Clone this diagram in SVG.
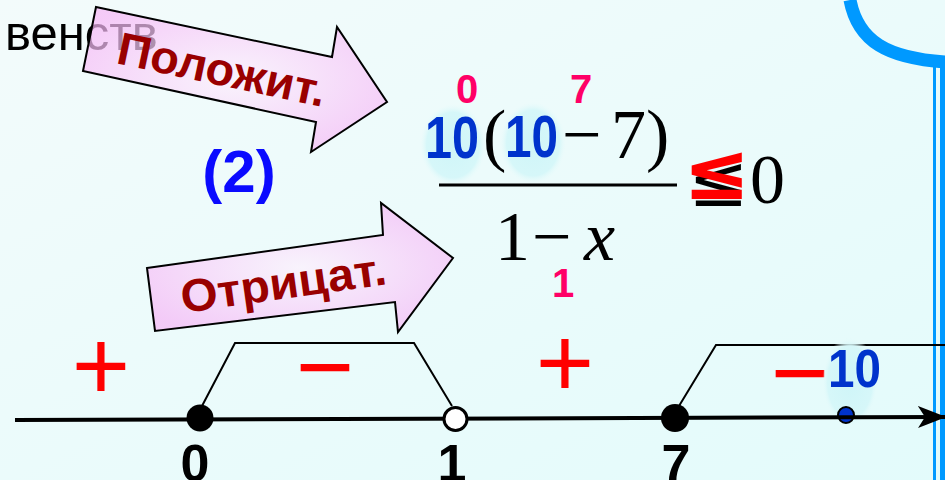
<svg xmlns="http://www.w3.org/2000/svg" width="945" height="480" viewBox="0 0 945 480">
<defs>
<linearGradient id="bg" x1="0" y1="0" x2="1" y2="1">
<stop offset="0" stop-color="#f3fbfb"/>
<stop offset="1" stop-color="#e3fbfb"/>
</linearGradient>
<radialGradient id="pink" cx="0.5" cy="0.5" r="0.6">
<stop offset="0" stop-color="#fdf0fd"/>
<stop offset="1" stop-color="#f6b6f6"/>
</radialGradient>
<radialGradient id="glow" cx="0.5" cy="0.5" r="0.5">
<stop offset="0" stop-color="#cff5f8"/>
<stop offset="0.8" stop-color="#d6f7f9"/>
<stop offset="1" stop-color="#e8fbfb" stop-opacity="0"/>
</radialGradient>
<marker id="ah" viewBox="0 0 28 24" refX="27" refY="12" markerWidth="28" markerHeight="24" markerUnits="userSpaceOnUse" orient="auto">
<path d="M0,1 L28,12 L0,23 L7,12 Z" fill="#000"/>
</marker>
<style>
.sans{font-family:"Liberation Sans",Arial,sans-serif}
.bold{font-weight:bold}
.blue{fill:#0033cc}
.pinknum{fill:#ff0066;font-weight:bold;font-size:40px;font-family:"Liberation Sans",Arial,sans-serif;text-anchor:middle}
.math{font-family:"Liberation Serif","Times New Roman",serif;font-size:70px;fill:#000}
.sign{font-family:"Liberation Sans",Arial,sans-serif;font-size:100px;fill:#ff0000;text-anchor:middle}
.arrow{fill:url(#pink);fill-opacity:0.7;stroke:#000;stroke-width:2;stroke-linejoin:miter}
.lbl{font-family:"Liberation Sans",Arial,sans-serif;font-weight:bold;fill:#990000;font-size:46px}
.axislbl{font-family:"Liberation Sans",Arial,sans-serif;font-weight:bold;font-size:52px;fill:#000;text-anchor:middle}
.chart{fill:none;stroke:#000;stroke-width:2}
.bluedec{fill:none;stroke:#0099ff}
</style>
</defs>
<rect x="0" y="0" width="945" height="480" fill="url(#bg)"/>

<g id="decor">
<path class="bluedec" d="M 850 0 C 858 42, 888 58, 945 62" stroke-width="13"/>
<line class="bluedec" x1="934.5" y1="66" x2="934.5" y2="480" stroke-width="3"/>
<line class="bluedec" x1="942.5" y1="62" x2="942.5" y2="480" stroke-width="5"/>
</g>

<g id="title">
<text class="sans" x="5" y="50" font-size="49" fill="#000">венств</text>
</g>

<g id="arrow-positive">
<polygon class="arrow" points="96,7 332,57 337,27 387,102 311,152 316,122 83,71"/>
<text class="lbl" transform="translate(115,63) rotate(12)" x="0" y="0" textLength="212" lengthAdjust="spacingAndGlyphs">Положит.</text>
</g>

<g id="arrow-negative">
<polygon class="arrow" points="147,268 383,235 381,203 453,258 398,332 395,302 155,331"/>
<text class="lbl" transform="translate(183,313) rotate(-8)" x="0" y="0" textLength="207" lengthAdjust="spacingAndGlyphs">Отрицат.</text>
</g>

<g id="label-2">
<text class="sans bold" x="239" y="192" font-size="60" fill="#0a0aff" text-anchor="middle">(2)</text>
</g>

<g id="inequality">
<ellipse cx="453" cy="145" rx="33" ry="41" fill="url(#glow)"/>
<ellipse cx="533" cy="143" rx="33" ry="41" fill="url(#glow)"/>
<text class="sans bold blue" x="425" y="158" font-size="60" textLength="54" lengthAdjust="spacingAndGlyphs">10</text>
<text class="math" x="483" y="158">(</text>
<text class="sans bold blue" x="505" y="157" font-size="60" textLength="53" lengthAdjust="spacingAndGlyphs">10</text>
<text class="math" x="562" y="158">−</text>
<text class="math" x="611" y="158">7</text>
<text class="math" x="646" y="158">)</text>
<line x1="439" y1="185" x2="677" y2="185" stroke="#000" stroke-width="3"/>
<text class="math" x="495" y="260">1</text>
<text class="math" x="532" y="260">−</text>
<text class="math" x="584" y="260" font-style="italic">x</text>
<text x="688" y="206" font-family="'DejaVu Serif',serif" font-size="72" fill="#000">≤</text>
<text x="683" y="199" font-family="'DejaVu Sans',sans-serif" font-weight="bold" font-size="80" fill="#ff0000">≤</text>
<text class="math" x="750" y="203" font-size="74">0</text>
<text class="pinknum" x="467" y="103">0</text>
<text class="pinknum" x="581" y="103">7</text>
<text class="pinknum" x="563" y="297">1</text>
</g>

<g id="connectors">
<polyline class="chart" points="202,406 235,343 414,343 452,406"/>
<polyline class="chart" points="679,406 716,345 945,345"/>
</g>

<g id="signs">
<text class="sign" x="101" y="400">+</text>
<text class="sign" x="325" y="401">−</text>
<text class="sign" x="565" y="397">+</text>
<text class="sign" x="800" y="407">−</text>
</g>

<g id="axis">
<ellipse cx="850" cy="382" rx="28" ry="45" fill="url(#glow)"/>
<text class="sans bold blue" x="828" y="387" font-size="54" textLength="53" lengthAdjust="spacingAndGlyphs">10</text>
<circle cx="846" cy="415" r="8" fill="#0033cc" stroke="#000" stroke-width="2"/>
<line x1="15" y1="420" x2="945" y2="417" stroke="#000" stroke-width="4" marker-end="url(#ah)"/>
<circle cx="200" cy="418" r="13.5" fill="#000"/>
<circle cx="455.5" cy="419" r="11.5" fill="#fff" stroke="#000" stroke-width="3"/>
<circle cx="675" cy="418" r="14" fill="#000"/>
<text class="axislbl" x="195" y="481">0</text>
<text class="axislbl" x="452" y="481">1</text>
<text class="axislbl" x="676" y="481">7</text>
</g>
</svg>
